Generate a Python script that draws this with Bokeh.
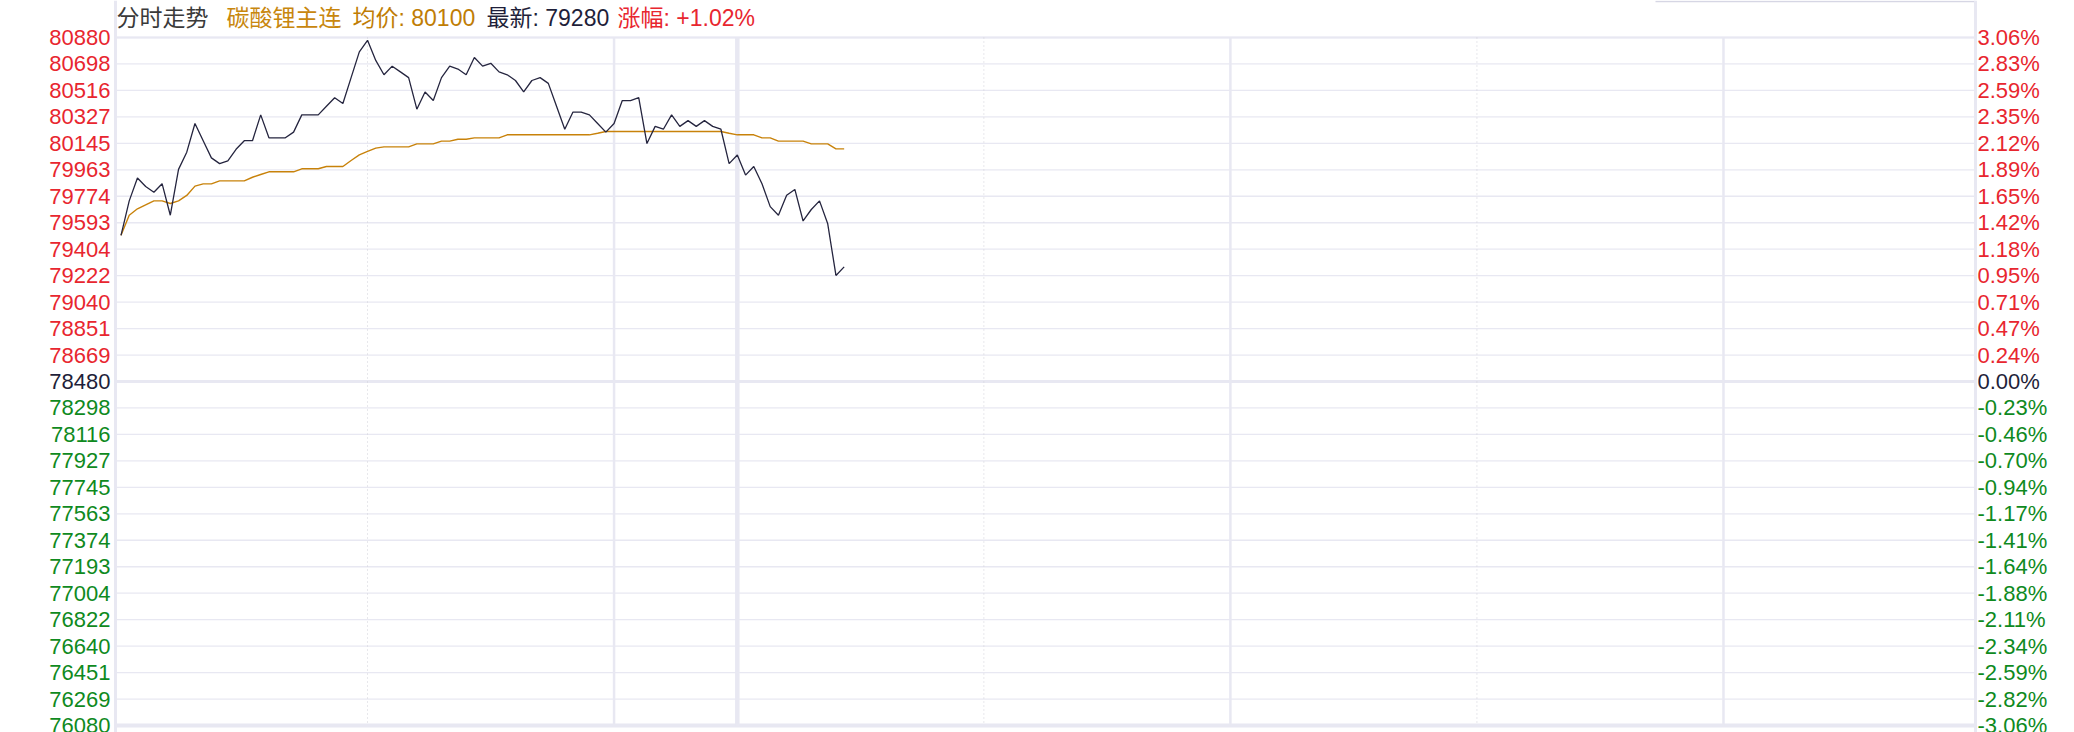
from bokeh.plotting import figure
from bokeh.models import Range1d, Span
from bokeh.embed import file_html
from bokeh.resources import INLINE
from bokeh.core.properties import value

# ---------------- data ----------------
prev_close = 78480
price = [79500, 79740, 79900, 79840, 79800, 79860, 79640, 79960, 80080, 80280,
         80160, 80040, 80000, 80020, 80100, 80160, 80160, 80340, 80180, 80180,
         80180, 80220, 80340, 80340, 80340, 80400, 80460, 80420, 80600, 80780,
         80860, 80720, 80620, 80680, 80640, 80600, 80380, 80500, 80440, 80600,
         80680, 80660, 80620, 80740, 80680, 80700, 80640, 80620, 80580, 80500,
         80580, 80600, 80560, 80400, 80240, 80360, 80360, 80340, 80280, 80220,
         80280, 80440, 80440, 80460, 80140, 80260, 80240, 80340, 80260, 80300,
         80260, 80300, 80260, 80240, 80000, 80060, 79920, 79980, 79860, 79700,
         79640, 79780, 79820, 79600, 79680, 79740, 79580, 79220, 79280]
avg = [79500, 79640, 79685, 79713, 79740, 79740, 79722, 79740, 79778, 79843,
       79859, 79859, 79880, 79880, 79880, 79880, 79905, 79924, 79943, 79943,
       79943, 79943, 79964, 79964, 79964, 79980, 79980, 79980, 80022, 80061,
       80085, 80108, 80117, 80117, 80117, 80117, 80138, 80138, 80138, 80157,
       80157, 80170, 80170, 80180, 80180, 80180, 80180, 80201, 80201, 80201,
       80201, 80201, 80201, 80201, 80201, 80201, 80201, 80201, 80212, 80224,
       80224, 80224, 80224, 80224, 80224, 80224, 80224, 80224, 80224, 80224,
       80224, 80224, 80224, 80224, 80212, 80201, 80201, 80201, 80180, 80180,
       80157, 80157, 80157, 80157, 80138, 80138, 80138, 80103, 80103]
minutes = list(range(len(price)))

price_labels = ["80880", "80698", "80516", "80327", "80145", "79963", "79774", "79593", "79404",
                "79222", "79040", "78851", "78669", "78480", "78298", "78116", "77927", "77745",
                "77563", "77374", "77193", "77004", "76822", "76640", "76451", "76269", "76080"]
pct_labels = ["3.06%", "2.83%", "2.59%", "2.35%", "2.12%", "1.89%", "1.65%", "1.42%", "1.18%",
              "0.95%", "0.71%", "0.47%", "0.24%", "0.00%", "-0.23%", "-0.46%", "-0.70%", "-0.94%",
              "-1.17%", "-1.41%", "-1.64%", "-1.88%", "-2.11%", "-2.34%", "-2.59%", "-2.82%", "-3.06%"]
y_low, y_high = 76080, 80880
session_minutes = 225
dotted_marks = [30, 105, 165]
solid_marks = [60, 135, 195]
break_marks = [75]

header_texts = ["分时走势", "碳酸锂主连", "均价: 80100", "最新: 79280", "涨幅: +1.02%"]

# ---------------- layout (pixel geometry of the page) ----------------
W, H = 2066, 732
PL, PR = 115, 1975                     # plot area left / right edge in px
TOP_PX, BOT_PX = 37, 725               # pixel rows of y_high / y_low
pad = 0.67
x0, x1 = -pad, session_minutes + pad   # plot area in minutes
ppm = (PR - PL) / (x1 - x0)            # pixels per minute
ppu = (BOT_PX - TOP_PX) / (y_high - y_low)
x_start = x0 - PL / ppm
x_end = x1 + (W - PR) / ppm
y_start = y_low - (H - BOT_PX) / ppu
y_end = y_high + TOP_PX / ppu

RED, GREEN, DARK = "#e8262f", "#0f8a1e", "#1f1f3a"
GRID = "#e8e8f2"

p = figure(width=W, height=H, output_backend="svg", toolbar_location=None, tools="",
           title=None, x_range=Range1d(x_start, x_end), y_range=Range1d(y_start, y_end),
           x_axis_location=None, y_axis_location=None,
           min_border_left=0, min_border_right=0, min_border_top=0, min_border_bottom=0,
           outline_line_color=None, background_fill_color="white", border_fill_color="white")
p.xgrid.visible = False
p.ygrid.visible = False

n = len(price_labels)
tick_vals = [y_low + k * (y_high - y_low) / (n - 1) for k in range(n)][::-1]

# horizontal grid
p.segment(x0=[x0] * n, x1=[x1] * n, y0=tick_vals, y1=tick_vals, line_color=GRID, line_width=1.3)
# emphasised horizontal lines: top, previous close, bottom
p.segment(x0=[x0] * 3, x1=[x1] * 3, y0=[y_high, prev_close, y_low], y1=[y_high, prev_close, y_low],
          line_color=GRID, line_width=[2, 3, 4])

# vertical time lines
p.segment(x0=dotted_marks, x1=dotted_marks, y0=[y_high] * 3, y1=[y_low] * 3,
          line_color="#cfcfd8", line_width=1, line_dash="1 3")
p.segment(x0=solid_marks, x1=solid_marks, y0=[y_high] * 3, y1=[y_low] * 3,
          line_color=GRID, line_width=2.5)
p.segment(x0=break_marks, x1=break_marks, y0=[y_high], y1=[y_low],
          line_color=GRID, line_width=4.5)

for xe in (x0, x1):
    p.add_layout(Span(location=xe, dimension="height", line_color=GRID, line_width=3))

# thin frame line of the panel at the top right
p.segment(x0=[x1 - 320 / ppm], x1=[x1], y0=[y_end - 1 / ppu], y1=[y_end - 1 / ppu],
          line_color="#d6d6e4", line_width=1.5)

# series
p.line(minutes, avg, line_color="#c8820a", line_width=1.4)
p.line(minutes, price, line_color="#25253f", line_width=1.3)

# tick labels (coloured by side of the previous close)
colors = [RED if v > prev_close + 1 else (GREEN if v < prev_close - 1 else DARK) for v in tick_vals]
p.text(x=[x0] * n, y=tick_vals, text=price_labels, text_color=colors, x_offset=-5,
       text_align="right", text_baseline="middle", text_font=value("Liberation Sans"),
       text_font_size="22px")
p.text(x=[x1] * n, y=tick_vals, text=pct_labels, text_color=colors, x_offset=2,
       text_align="left", text_baseline="middle", text_font=value("Liberation Sans"),
       text_font_size="22px")

# header
y_head = y_high + (TOP_PX - 17.5) / ppu
head_px = [116, 226, 352, 486, 617]
head_colors = ["#3a3a3a", "#c8870e", "#c07d05", DARK, RED]
p.text(x=[x_start + px / ppm for px in head_px], y=[y_head] * len(header_texts),
       text=header_texts, text_color=head_colors, text_align="left", text_baseline="middle",
       text_font=value("Liberation Sans, Noto Sans CJK SC"), text_font_size="23px")

open("out.html", "w").write(file_html(p, INLINE))
